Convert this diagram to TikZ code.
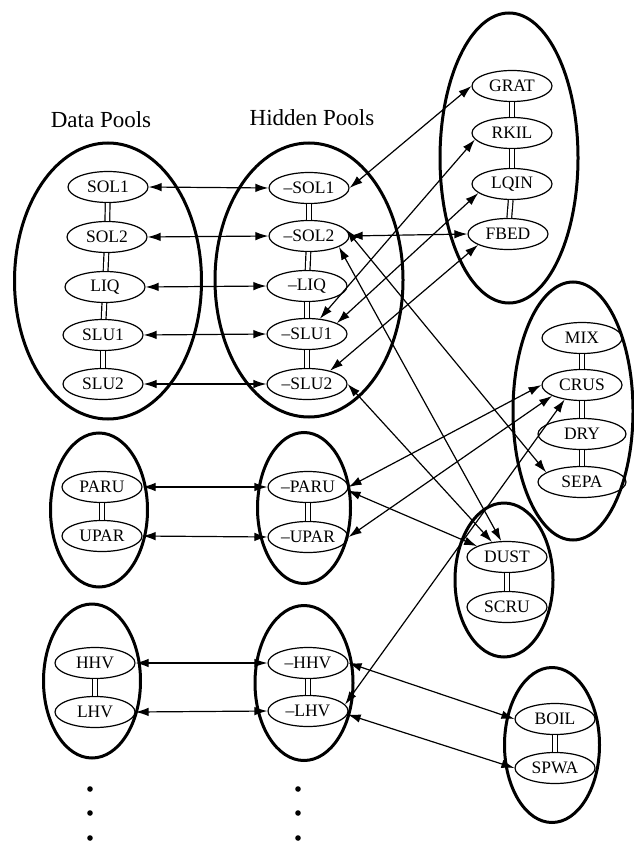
\documentclass[tikz,border=0pt]{standalone}
\usepackage{fontspec}
\setmainfont{Liberation Serif}
\usepackage{tikz}
\usetikzlibrary{shapes.geometric,arrows.meta}

\begin{document}
\begin{tikzpicture}[x=1pt,y=-1pt]
  \tikzstyle{pool}=[draw, ellipse, line width=3pt, inner sep=0pt]
  \tikzstyle{var}=[draw, ellipse, line width=1.2pt, minimum width=80pt, minimum height=31pt,
                   inner sep=0pt, font=\fontsize{17.5}{17.5}\selectfont]
  \tikzstyle{title}=[font=\fontsize{23}{23}\selectfont]
  \tikzstyle{link}=[double, double distance=3.5pt, line width=1.2pt]

  \useasboundingbox (0,0) rectangle (633,842);

  % Titles
  \node[title] (dataTitle) at (101,120) {Data Pools};
  \node[title] (hidTitle) at (312,118) {Hidden Pools};

  % Pools (big ellipses)
  \node[pool, minimum width=187pt, minimum height=276pt] (dataGrp) at (108,281) {};
  \node[pool, minimum width=188pt, minimum height=274pt] (hidGrp) at (309,280) {};
  \node[pool, minimum width=138pt, minimum height=290pt] (tankGrp) at (509,158) {};
  \node[pool, minimum width=120pt, minimum height=258pt] (crusGrp) at (573,411) {};
  \node[pool, minimum width=97pt, minimum height=154pt] (paruGrp) at (99,510) {};
  \node[pool, minimum width=93pt, minimum height=151pt] (hparuGrp) at (304,508) {};
  \node[pool, minimum width=98pt, minimum height=154pt] (dustGrp) at (504,580) {};
  \node[pool, minimum width=97pt, minimum height=154pt] (hvGrp) at (92,681) {};
  \node[pool, minimum width=98pt, minimum height=155pt] (hhvGrp) at (304,683) {};
  \node[pool, minimum width=95pt, minimum height=155pt] (boilGrp) at (552,745) {};

  % Variables
  \node[var] (SOL1) at (108,187) {SOL1};
  \node[var] (SOL2) at (107,237) {SOL2};
  \node[var] (LIQ) at (105,287) {LIQ};
  \node[var] (SLU1) at (103,335) {SLU1};
  \node[var] (SLU2) at (103,384) {SLU2};

  \node[var] (hSOL1) at (309,188) {\textendash SOL1};
  \node[var] (hSOL2) at (309,236) {\textendash SOL2};
  \node[var] (hLIQ) at (307,286) {\textendash LIQ};
  \node[var] (hSLU1) at (307,334) {\textendash SLU1};
  \node[var] (hSLU2) at (307,384) {\textendash SLU2};

  \node[var] (GRAT) at (512,86) {GRAT};
  \node[var] (RKIL) at (512,133) {RKIL};
  \node[var] (LQIN) at (512,184) {LQIN};
  \node[var] (FBED) at (508,234) {FBED};

  \node[var] (MIX) at (582,338) {MIX};
  \node[var] (CRUS) at (582,385) {CRUS};
  \node[var, minimum width=88pt] (DRY) at (582,434) {DRY};
  \node[var, minimum width=88pt] (SEPA) at (582,482) {SEPA};

  \node[var] (PARU) at (102,487) {PARU};
  \node[var] (UPAR) at (102,536) {UPAR};
  \node[var] (hPARU) at (308,487) {\textendash PARU};
  \node[var] (hUPAR) at (308,537) {\textendash UPAR};

  \node[var] (DUST) at (507,557) {DUST};
  \node[var] (SCRU) at (507,607) {SCRU};

  \node[var] (HHV) at (95,663) {HHV};
  \node[var] (LHV) at (95,712) {LHV};
  \node[var] (hHHV) at (308,663) {\textendash HHV};
  \node[var] (hLHV) at (308,711) {\textendash LHV};

  \node[var] (BOIL) at (555,719) {BOIL};
  \node[var] (SPWA) at (555,768) {SPWA};

  % Links inside a pool
  \foreach \a/\b in {SOL1/SOL2, SOL2/LIQ, LIQ/SLU1, SLU1/SLU2,
                     hSOL1/hSOL2, hSOL2/hLIQ, hLIQ/hSLU1, hSLU1/hSLU2,
                     GRAT/RKIL, RKIL/LQIN, LQIN/FBED,
                     MIX/CRUS, CRUS/DRY, DRY/SEPA,
                     PARU/UPAR, hPARU/hUPAR, DUST/SCRU,
                     HHV/LHV, hHHV/hLHV, BOIL/SPWA}
    \draw[link] (\a) -- (\b);

  % Dots
  \foreach \y in {789,813,838} {
    \fill (90,\y) circle (2.8pt);
    \fill (298,\y) circle (2.8pt);
  }

  \begin{scope}[line width=1.2pt, {Latex[length=13pt,width=8.5pt]}-{Latex[length=13pt,width=8.5pt]}]
    \draw (SOL1.east) -- (hSOL1.west);
    \draw (SOL2.east) -- (hSOL2.west);
    \draw (LIQ.east) -- (hLIQ.west);
    \draw (SLU1.east) -- (hSLU1.west);
    \draw (SLU2.east) -- (hSLU2.west);
    \draw (PARU.east) -- (hPARU.west);
    \draw (UPAR.east) -- (hUPAR.west);
    \draw (HHV.east) -- (hHHV.west);
    \draw (LHV.east) -- (hLHV.west);

    \draw (hSOL1.east) -- (GRAT.west);
    \draw (hSOL2.east) -- (FBED.west);
    \draw (hSLU1.50) -- (RKIL.190);
    \draw (hSLU1.20) -- (LQIN.195);
    \draw (hSLU2.30) -- (FBED.200);
    \draw (hSOL2.10) -- (SEPA.165);
    \draw (hSOL2.-20) -- (DUST.110);
    \draw (hSLU2.east) -- (DUST.135);
    \draw (hPARU.east) -- (CRUS.west);
    \draw (hPARU.-5) -- (DUST.160);
    \draw (hUPAR.east) -- (CRUS.200);
    \draw (hLHV.10) -- (CRUS.220);
    \draw (hHHV.east) -- (BOIL.west);
    \draw (hLHV.-5) -- (SPWA.west);
  \end{scope}
\end{tikzpicture}
\end{document}
